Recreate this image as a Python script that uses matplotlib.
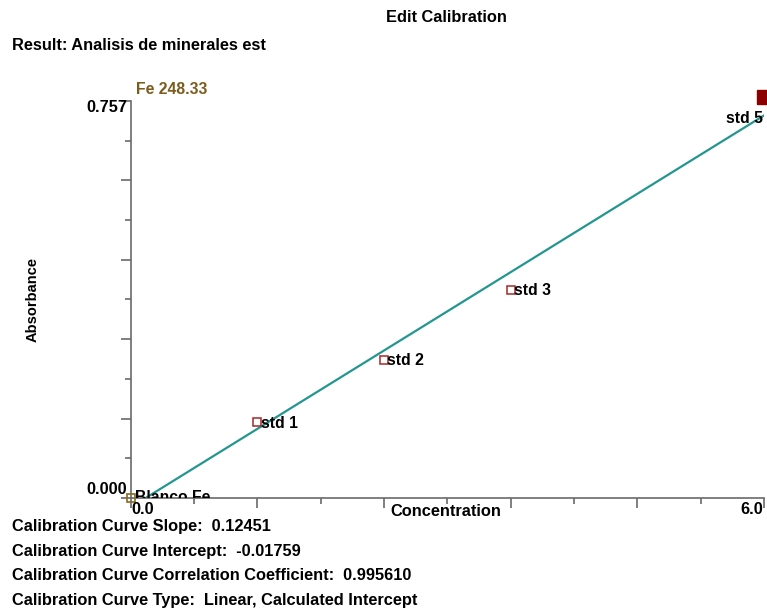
import matplotlib
matplotlib.use("Agg")
import matplotlib.pyplot as plt
import numpy as np

plt.rcParams['font.family'] = ['Liberation Sans', 'DejaVu Sans']
plt.rcParams['font.weight'] = 'bold'

# Calibration standards
labels = ["Blanco Fe", "std 1", "std 2", "std 3", "std 5"]
concentration = [0.0, 1.2, 2.4, 3.6, 6.0]
absorbance = [0.0, 0.144, 0.2625, 0.396, 0.765]

# Fitted curve parameters
slope = 0.12451
intercept = -0.01759
corr_coef = 0.995610

x_min, x_max = 0.0, 6.0
y_min, y_max = 0.0, 0.757

FS = 11.8
W, H = 767, 610
fig = plt.figure(figsize=(W / 100, H / 100), dpi=100)
ax = fig.add_axes([130.7 / W, (H - 498) / H, (764 - 130.7) / W, (498 - 101) / H])
ax.set_xlim(x_min, x_max)
ax.set_ylim(y_min, y_max)

for s in ("top", "right"):
    ax.spines[s].set_visible(False)
for s in ("left", "bottom"):
    ax.spines[s].set_color("#6a6a6a")
    ax.spines[s].set_linewidth(1.2)

# ticks: majors at fifths of the range, minors halfway between
ax.set_xticks(np.linspace(x_min, x_max, 6))
ax.set_xticks(np.linspace(x_min, x_max, 11), minor=True)
ax.set_yticks(np.linspace(y_min, y_max, 6))
ax.set_yticks(np.linspace(y_min, y_max, 11), minor=True)
ax.tick_params(which="major", length=7, width=1.2, color="#6a6a6a",
               labelbottom=False, labelleft=False)
ax.tick_params(which="minor", length=4, width=1.2, color="#6a6a6a")

# regression line
xs = np.array([x_min, x_max])
ax.plot(xs, slope * xs + intercept, color="#23968f", lw=1.6, zorder=2)

# standards
hollow_col = "#a52a2a"
for lab, cx, cy in zip(labels, concentration, absorbance):
    if lab == "Blanco Fe":
        ax.plot(cx, cy, marker="s", ms=6.2, mfc="none", mec="#8b6a1f",
                mew=1.2, clip_on=False, zorder=4)
        ax.text(cx + 0.04, cy + 0.0, lab, fontsize=11.3, fontweight="bold",
                va="center", ha="left", clip_on=True, zorder=3)
    elif lab == "std 5":
        ax.plot(cx, cy, marker="s", ms=9.5, color="#8b0000",
                clip_on=False, zorder=4)
        ax.text(cx - 0.01, cy - 0.042, lab, fontsize=11.3, fontweight="bold",
                va="center", ha="right", zorder=3)
    else:
        ax.plot(cx, cy, marker="s", ms=6.2, mfc="none", mec=hollow_col,
                mew=1.1, zorder=4)
        ax.text(cx + 0.03, cy - 0.001, lab, fontsize=11.3, fontweight="bold",
                va="center", ha="left", zorder=5)

# axis end labels
fig.text(127 / W, 1 - 107 / H, "0.757", fontsize=FS, fontweight="bold",
         ha="right", va="center")
fig.text(127 / W, 1 - 490 / H, "0.000", fontsize=FS, fontweight="bold",
         ha="right", va="center")
fig.text(143 / W, 1 - 509 / H, "0.0", fontsize=FS, fontweight="bold",
         ha="center", va="center")
fig.text(752 / W, 1 - 509 / H, "6.0", fontsize=FS, fontweight="bold",
         ha="center", va="center")
fig.text(446 / W, 1 - 512 / H, "Concentration", fontsize=FS, fontweight="bold",
         ha="center", va="center")
fig.text(33 / W, 1 - 299 / H, "Absorbance", fontsize=10.5, fontweight="bold",
         ha="center", va="center", rotation=90)
fig.text(136 / W, 1 - 90 / H, "Fe 248.33", fontsize=11.3, fontweight="bold",
         color="#7d5b1c", ha="left", va="center")

# headings
fig.text(446 / W, 1 - 17 / H, "Edit Calibration", fontsize=FS,
         fontweight="bold", ha="center", va="center")
fig.text(12 / W, 1 - 46 / H, "Result: Analisis de minerales est", fontsize=FS,
         fontweight="bold", ha="left", va="center")

# fit summary
summary = [
    f"Calibration Curve Slope:  {slope:.5f}",
    f"Calibration Curve Intercept:  {intercept:.5f}",
    f"Calibration Curve Correlation Coefficient:  {corr_coef:.6f}",
    "Calibration Curve Type:  Linear, Calculated Intercept",
]
for i, line in enumerate(summary):
    fig.text(12 / W, 1 - (527 + 24.4 * i) / H, line, fontsize=FS,
             fontweight="bold", ha="left", va="center")

fig.savefig("out.png", dpi=100)
